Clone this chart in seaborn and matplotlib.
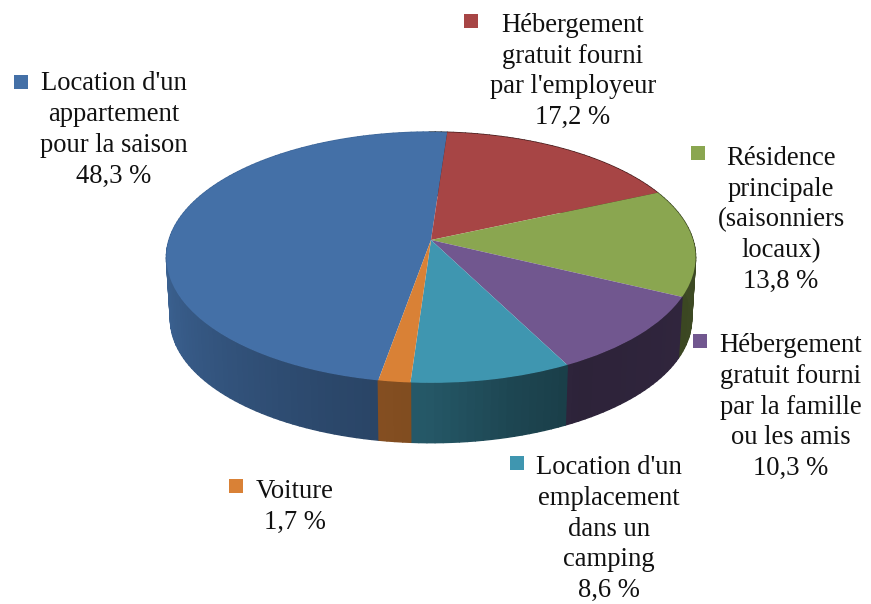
import numpy as np
import matplotlib
matplotlib.use("Agg")
import matplotlib.pyplot as plt
from matplotlib.collections import PolyCollection
from matplotlib.transforms import Transform
import seaborn as sns

categories = ["Location d'un\nappartement\npour la saison",
              "Hébergement\ngratuit fourni\npar l'employeur",
              "Résidence\nprincipale\n(saisonniers\nlocaux)",
              "Hébergement\ngratuit fourni\npar la famille\nou les amis",
              "Location d'un\nemplacement\ndans un\ncamping",
              "Voiture"]
values = [48.3, 17.2, 13.8, 10.3, 8.6, 1.7]
value_labels = ["48,3 %", "17,2 %", "13,8 %", "10,3 %", "8,6 %", "1,7 %"]

sns.set_theme(style="white")
plt.rcParams['font.family'] = ['Liberation Serif', 'DejaVu Serif']
palette = sns.color_palette(["#4470a7", "#a74545", "#8aa650", "#71578f", "#3f96b0", "#d98136"])

W, H = 871, 604
CX, CY = 431.0, 240.0
A, B, K = 262.0, 123.0, 0.139
DEPTH = 62.0
SHRINK = 0.985


def project(x, y, scale=1.0, dy=0.0):
    d = 1 + K * y
    return CX + scale * A * x / d, CY + dy - scale * B * y / d


class Perspective(Transform):
    input_dims = output_dims = 2
    is_separable = False
    has_inverse = False

    def transform_non_affine(self, values):
        v = np.asarray(values, float)
        X, Y = project(v[:, 0], v[:, 1])
        return np.column_stack([X, Y])


fig = plt.figure(figsize=(W / 100, H / 100), dpi=100, facecolor="white")
ax = fig.add_axes([0, 0, 1, 1])
wedges, _ = ax.pie(values, colors=palette, startangle=-100, counterclock=False,
                   radius=1, center=(0, 0), wedgeprops=dict(linewidth=0, zorder=3))
ax.set_aspect("auto")
ax.set_xlim(0, W)
ax.set_ylim(H, 0)
ax.axis("off")

persp = Perspective() + ax.transData
for w in wedges:
    w.set_transform(persp)
    w.set_antialiased(True)

# side wall, shaded with the angle (clockwise from the top of the pie)
shade_a = [0, 85, 150, 165, 180, 200, 240, 275, 360]
shade_v = [0.4, 0.45, 0.40, 0.47, 0.58, 0.64, 0.80, 0.93, 0.93]
for w, col in zip(wedges, palette):
    n = max(2, int((w.theta2 - w.theta1) / 1.5))
    th = np.linspace(w.theta1, w.theta2, n + 1)
    polys, cols = [], []
    for t0, t1 in zip(th[:-1], th[1:]):
        r0, r1 = np.deg2rad(t0), np.deg2rad(t1)
        x = np.cos([r0, r1])
        y = np.sin([r0, r1])
        tx, ty = project(x, y)
        bx, by = project(x, y, SHRINK, DEPTH)
        polys.append(np.column_stack([[tx[0], tx[1], bx[1], bx[0]],
                                      [ty[0], ty[1], by[1], by[0]]]))
        cw = (90 - 0.5 * (t0 + t1)) % 360
        f = np.interp(cw, shade_a, shade_v)
        cols.append(tuple(np.array(col) * f))
    ax.add_collection(PolyCollection(polys, facecolors=cols, edgecolors=cols,
                                     linewidths=1.0, zorder=2))

# labels
label_xy = [(114, 130), (573, 71.5), (781, 220), (791, 407), (609, 529), (295, 507)]
marker_xy = [(21, 82), (471, 21), (698, 153), (700, 341), (517, 463), (236, 486)]
for cat, val, (lx, ly), (mx, my), col in zip(categories, value_labels, label_xy, marker_xy, palette):
    ax.text(lx, ly, cat + "\n" + val, ha="center", va="center", fontsize=19.2,
            linespacing=1.30, color="#111111", zorder=5)
    ax.scatter([mx], [my], marker="s", s=100, color=[col], linewidths=0, zorder=5)

fig.savefig("out.png", dpi=100, facecolor="white")
